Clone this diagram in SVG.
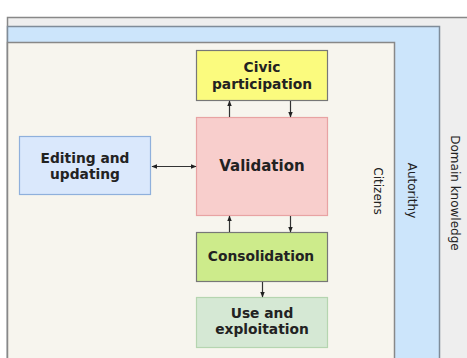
<svg xmlns="http://www.w3.org/2000/svg" width="467" height="358" viewBox="0 0 467 358">
<defs>
<marker id="ah" viewBox="0 0 10 10" refX="9" refY="5" markerWidth="6" markerHeight="6" orient="auto-start-reverse" markerUnits="userSpaceOnUse">
<path d="M0,1 L10,5 L0,9 Z" fill="#222"/>
</marker>
</defs>
<style>
.lb{font-family:"DejaVu Sans",Verdana,sans-serif;font-weight:bold;font-size:13.8px;fill:#222;text-anchor:middle}
.vt{font-family:"DejaVu Sans",Verdana,sans-serif;font-size:12px;fill:#222;text-anchor:middle}
.c{stroke:#333;stroke-width:1.2;fill:none;marker-end:url(#ah)}
</style>
<rect x="0" y="0" width="467" height="358" fill="#ffffff"/>
<g id="domain">
<rect x="7.5" y="17.5" width="470" height="350" fill="#eeeeee" stroke="#888" stroke-width="1.5"/>
<text class="vt" transform="translate(451,193) rotate(90)">Domain knowledge</text>
</g>
<g id="autority">
<rect x="7.5" y="26.5" width="432" height="340" fill="#cce5fb" stroke="#7f8c99" stroke-width="1.5"/>
<text class="vt" transform="translate(408,190.5) rotate(90)">Autorithy</text>
</g>
<g id="citizens">
<rect x="7.5" y="42.5" width="387" height="330" fill="#f7f5ee" stroke="#888" stroke-width="1.5"/>
<text class="vt" transform="translate(374,191) rotate(90)">Citizens</text>
</g>
<g id="civic">
<rect x="196.5" y="50.5" width="131" height="50" fill="#fbfb7e" stroke="#777" stroke-width="1.2"/>
<text class="lb" x="262" y="72">Civic</text>
<text class="lb" x="262" y="88.5">participation</text>
</g>
<g id="validation">
<rect x="196.5" y="117.5" width="131" height="98" fill="#f8cecc" stroke="#e8a3a3" stroke-width="1.2"/>
<text class="lb" x="262" y="171" style="font-size:15px">Validation</text>
</g>
<g id="editing">
<rect x="19.5" y="136.5" width="131" height="58" fill="#dae8fc" stroke="#8fb0dc" stroke-width="1.2"/>
<text class="lb" x="85" y="163">Editing and</text>
<text class="lb" x="85" y="179">updating</text>
</g>
<g id="consolidation">
<rect x="196.5" y="232.5" width="131" height="49" fill="#cdeb8b" stroke="#777" stroke-width="1.2"/>
<text class="lb" x="261" y="261">Consolidation</text>
</g>
<g id="use">
<rect x="196.5" y="297.5" width="131" height="50" fill="#d5e8d4" stroke="#b5d5b0" stroke-width="1.2"/>
<text class="lb" x="262" y="318">Use and</text>
<text class="lb" x="262" y="334">exploitation</text>
</g>
<g id="connectors">
<line class="c" x1="229.5" y1="117" x2="229.5" y2="101"/>
<line class="c" x1="290.5" y1="101" x2="290.5" y2="117"/>
<line class="c" x1="229.5" y1="232" x2="229.5" y2="216"/>
<line class="c" x1="290.5" y1="216" x2="290.5" y2="232"/>
<line class="c" x1="262.5" y1="282" x2="262.5" y2="297"/>
<line class="c" x1="152" y1="166.5" x2="196" y2="166.5" style="marker-start:url(#ah)"/>
</g>
</svg>
